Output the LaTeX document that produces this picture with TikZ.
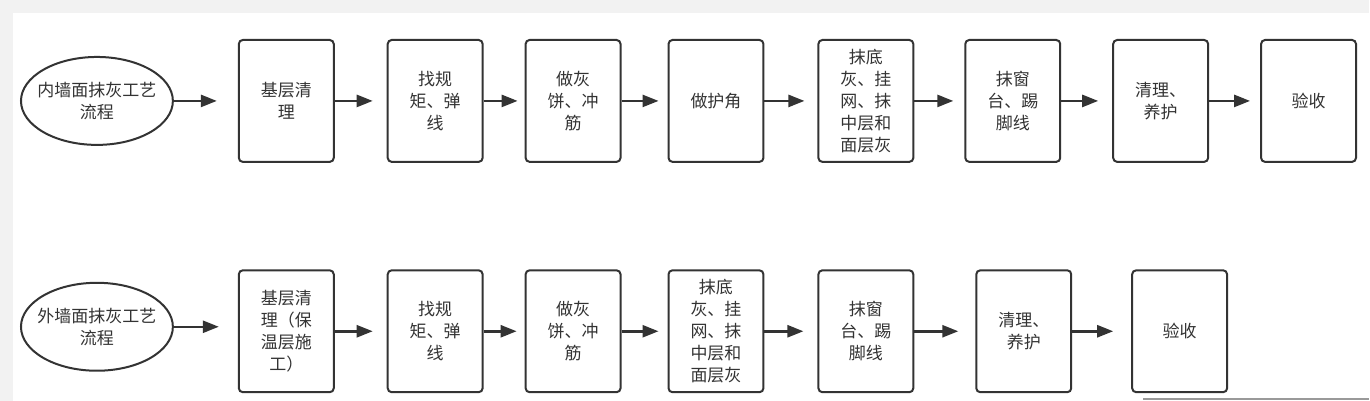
\documentclass[tikz,border=0pt]{standalone}
\usepackage{fontspec}
\setmainfont{Noto Sans CJK SC}
\usetikzlibrary{arrows.meta,shapes.geometric}
\definecolor{ink}{HTML}{333333}
\definecolor{pagegray}{HTML}{F2F2F2}
\begin{document}
\begin{tikzpicture}[x=1pt, y=-1pt,
    every node/.style={text=ink, font=\fontsize{17}{22}\selectfont, align=center},
    stepbox/.style={draw=ink, line width=2pt, rounded corners=4pt, minimum width=95pt, minimum height=122pt, inner sep=0pt},
    startnode/.style={draw=ink, line width=2pt, ellipse, minimum width=152pt, minimum height=88pt, inner xsep=-7.5pt, inner ysep=0pt},
    flow/.style={draw=ink, line width=2.5pt, -{Triangle[length=16pt,width=12pt]}}]
    % page background
    \fill[pagegray] (0,0) rectangle (1370,401);
    \fill[white] (13,13) rectangle (1370,401);
    \draw[gray!80, line width=2pt] (1144,399) -- (1370,399);
    % inner walls
    \node[startnode] (iS) at (97,101) {内墙面抹灰工艺\\流程};
    \node[stepbox] (i1) at (286.5,101) {基层清\\理};
    \node[stepbox] (i2) at (435.5,101) {找规\\矩、弹\\线};
    \node[stepbox] (i3) at (573.5,101) {做灰\\饼、冲\\筋};
    \node[stepbox] (i4) at (716.5,101) {做护角};
    \node[stepbox] (i5) at (866.5,101) {抹底\\灰、挂\\网、抹\\中层和\\面层灰};
    \node[stepbox] (i6) at (1013.5,101) {抹窗\\台、踢\\脚线};
    \node[stepbox] (i7) at (1161.5,101) {清理、\\养护};
    \node[stepbox] (i8) at (1309.5,101) {验收};
    % outer walls
    \node[startnode] (oS) at (97,327) {外墙面抹灰工艺\\流程};
    \node[stepbox] (o1) at (286.5,331.5) {基层清\\理（保\\温层施\\工）};
    \node[stepbox] (o2) at (435.5,331.5) {找规\\矩、弹\\线};
    \node[stepbox] (o3) at (573.5,331.5) {做灰\\饼、冲\\筋};
    \node[stepbox] (o4) at (716.5,331.5) {抹底\\灰、挂\\网、抹\\中层和\\面层灰};
    \node[stepbox] (o5) at (866.5,331.5) {抹窗\\台、踢\\脚线};
    \node[stepbox] (o6) at (1024.5,331.5) {清理、\\养护};
    \node[stepbox] (o7) at (1180.5,331.5) {验收};
    % arrows
    \draw[flow, shorten >=21pt] (iS.east) -- (iS.east -| i1.west);
    \draw[flow, shorten >=19pt] (oS.east) -- (oS.east -| o1.west);
    \foreach \a/\b/\g in {i1/i2/14, i2/i3/7, i3/i4/9, i4/i5/13, i5/i6/11, i6/i7/14, i7/i8/10,
                          o1/o2/14, o2/o3/8, o3/o4/9, o4/o5/14, o5/o6/17, o6/o7/18}
        \draw[flow, shorten >=\g pt] (\a) -- (\b);
\end{tikzpicture}
\end{document}
